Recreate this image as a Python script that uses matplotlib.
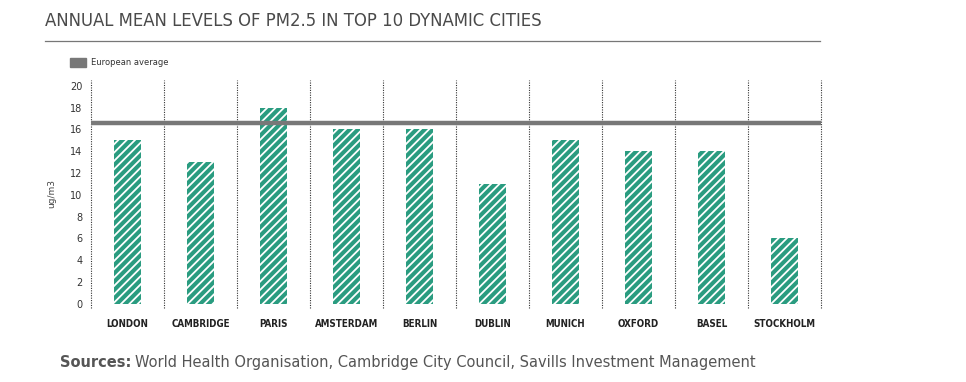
import matplotlib.pyplot as plt
import matplotlib.patches as mpatches
import numpy as np

cities = ["LONDON", "CAMBRIDGE", "PARIS", "AMSTERDAM", "BERLIN",
          "DUBLIN", "MUNICH", "OXFORD", "BASEL", "STOCKHOLM"]
pm25 = [15, 13, 18, 16, 16, 11, 15, 14, 14, 6]
european_average = 16.6
yticks = [0, 2, 4, 6, 8, 10, 12, 14, 16, 18, 20]

teal = "#2a9c80"
grey = "#787878"

plt.rcParams["hatch.linewidth"] = 1.3

fig = plt.figure(figsize=(9.66, 3.82), dpi=100)
ax = fig.add_axes([0.0942, 0.194, 0.7557, 0.597])

x = np.arange(len(cities))
ax.bar(x, pm25, width=0.38, color=teal, edgecolor="white", linewidth=0,
       hatch="////", zorder=2)
ax.axhline(european_average, color=grey, linewidth=3.2, zorder=3)

# dotted separators between cities
for xv in np.arange(len(cities) + 1) - 0.5:
    ax.axvline(xv, color="#333333", linestyle=(0, (1, 1.2)), linewidth=0.8,
               zorder=1, clip_on=False)

ax.set_xlim(-0.5, len(cities) - 0.5)
ax.set_ylim(-0.37, 20.55)
ax.set_yticks(yticks)
ax.set_yticklabels([str(v) for v in yticks], fontsize=7, color="#333333")
ax.set_xticks(x)
ax.set_xticklabels(cities, fontsize=7, fontweight="bold", fontstretch="condensed",
                   color="#222222")
ax.tick_params(length=0, pad=6)
ax.tick_params(axis="x", pad=8)
for s in ax.spines.values():
    s.set_visible(False)
ax.set_ylabel("ug/m3", fontsize=6.5, color="#444444", labelpad=10)

fig.text(0.047, 0.945, "ANNUAL MEAN LEVELS OF PM2.5 IN TOP 10 DYNAMIC CITIES",
         fontsize=13.2, fontstretch="condensed", color="#4a4a4a", va="center")
fig.add_artist(plt.Line2D([0.047, 0.849], [0.892, 0.892], color="#777777", linewidth=0.9))

# legend
fig.add_artist(mpatches.Rectangle((0.0725, 0.825), 0.0165, 0.0235,
                                  transform=fig.transFigure, color=grey))
fig.text(0.094, 0.837, "European average", fontsize=6, color="#333333", va="center")

src = fig.text(0.062, 0.05, "Sources:", fontsize=10.5, fontweight="bold",
               color="#555555", va="center")
fig.canvas.draw()
bb = src.get_window_extent().transformed(fig.transFigure.inverted())
fig.text(bb.x1 + 0.004, 0.05,
         "World Health Organisation, Cambridge City Council, Savills Investment Management",
         fontsize=10.5, color="#555555", va="center")

fig.savefig("out.png", dpi=100)
